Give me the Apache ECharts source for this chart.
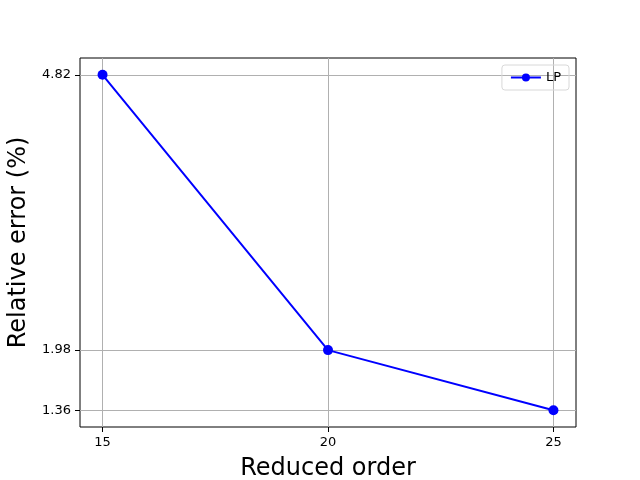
<!DOCTYPE html>
<html>
<head>
<meta charset="utf-8">
<script src="https://cdn.jsdelivr.net/npm/echarts@6/dist/echarts.min.js"></script>
<style>
  html, body { margin: 0; padding: 0; background: #fff; }
  #chart { width: 640px; height: 480px; }
</style>
</head>
<body>
<div id="chart"></div>
<script>
// data
const orders = [15, 20, 25]
const lpError = [4.82, 1.98, 1.36]
const yTicks = [1.36, 1.98, 4.82]
const xTicks = [15, 20, 25]

const font = 'DejaVu Sans'
const chart = echarts.init(document.getElementById('chart'))

const option = {
  animation: false,
  grid: {
    left: 80,
    right: 64,
    top: 58,
    bottom: 53,
    outerBoundsMode: 'none',
    containLabel: false,
    show: true,
    borderColor: '#000',
    borderWidth: 1,
    backgroundColor: 'transparent'
  },
  legend: {
    right: 71,
    top: 65,
    data: ['LP'],
    itemWidth: 30,
    itemHeight: 10,
    itemGap: 8,
    padding: [6, 8],
    borderColor: '#d8d8d8',
    borderWidth: 1,
    borderRadius: 3,
    textStyle: { fontFamily: font, fontSize: 13, color: '#000' }
  },
  xAxis: {
    type: 'value',
    min: 14.5,
    max: 25.5,
    name: 'Reduced order',
    nameLocation: 'middle',
    nameGap: 30,
    nameTextStyle: { fontFamily: font, fontSize: 24, color: '#000', verticalAlign: 'top' },
    axisLine: { show: false },
    axisTick: { show: true, length: 5, lineStyle: { color: '#000' }, customValues: xTicks },
    axisLabel: { fontFamily: font, fontSize: 13, color: '#000', margin: 9, customValues: xTicks },
    splitLine: { show: true, lineStyle: { color: '#b0b0b0', width: 1 } }
  },
  yAxis: {
    type: 'value',
    min: 1.187,
    max: 4.993,
    name: 'Relative error (%)',
    nameLocation: 'middle',
    nameGap: 47,
    nameTextStyle: { fontFamily: font, fontSize: 24, color: '#000' },
    axisLine: { show: false },
    axisTick: { show: true, length: 5, lineStyle: { color: '#000' }, customValues: yTicks },
    axisLabel: {
      fontFamily: font, fontSize: 13, color: '#000', margin: 9,
      customValues: yTicks,
      formatter: v => v.toFixed(2)
    },
    splitLine: { show: true, lineStyle: { color: '#b0b0b0', width: 1 } }
  },
  series: [
    {
      name: 'LP',
      type: 'line',
      data: orders.map((x, i) => [x, lpError[i]]),
      symbol: 'circle',
      symbolSize: 10,
      itemStyle: { color: '#0000ff' },
      lineStyle: { color: '#0000ff', width: 2 }
    }
  ]
}

chart.setOption(option)
</script>
</body>
</html>
